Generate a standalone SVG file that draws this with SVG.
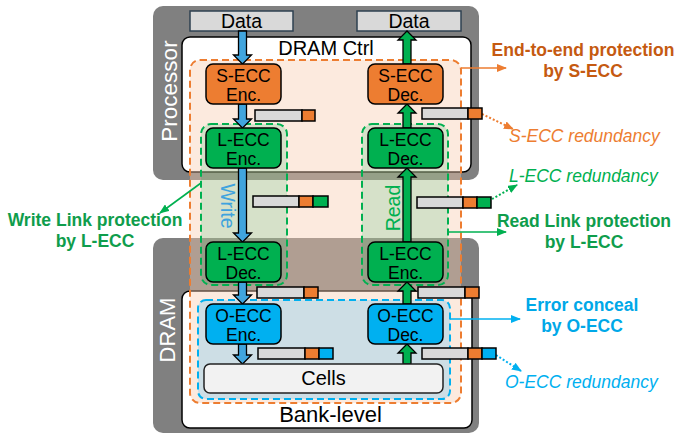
<svg xmlns="http://www.w3.org/2000/svg" width="676" height="436" viewBox="0 0 676 436">
<style>
text{font-family:"Liberation Sans",Arial,sans-serif}
.gray{fill:#808080}
.white{fill:#fff;stroke:#000;stroke-width:1.5}
.data{fill:#d9d9d9;stroke:#2e4050;stroke-width:1.5}
.dt{font-size:19.5px;fill:#000;text-anchor:middle}
.node{stroke:#000;stroke-width:1.5}
.o{fill:#ed7d31}.g{fill:#00b050}.b{fill:#00b0f0}
.nt{font-size:17.5px;fill:#000;text-anchor:middle}
.bar{stroke:#000;stroke-width:1.5}
.bg{fill:#d9d9d9}
.ba{stroke:#000;stroke-width:1.3}
.dn{fill:#41a5de}
.up{fill:#00b050}
.ann{font-size:17.5px;font-weight:bold;text-anchor:middle}
.red{font-size:17.5px;font-style:italic}
</style>
<defs>
<marker id="mo" markerWidth="10" markerHeight="8" refX="9" refY="4" orient="auto" markerUnits="userSpaceOnUse"><path d="M0,0 L10,4 L0,8 Z" fill="#ed7d31"/></marker>
<marker id="mg" markerWidth="10" markerHeight="8" refX="9" refY="4" orient="auto" markerUnits="userSpaceOnUse"><path d="M0,0 L10,4 L0,8 Z" fill="#00b050"/></marker>
<marker id="mb" markerWidth="10" markerHeight="8" refX="9" refY="4" orient="auto" markerUnits="userSpaceOnUse"><path d="M0,0 L10,4 L0,8 Z" fill="#00b0f0"/></marker>
</defs>

<g id="processor">
<rect class="gray" x="153" y="6" width="326" height="174" rx="10"/>
<rect class="white" x="182" y="37" width="289" height="135" rx="8"/>
<text x="177" y="91" transform="rotate(-90 177 91)" font-size="22.5" fill="#fff" text-anchor="middle">Processor</text>
<text x="326" y="55" font-size="20" text-anchor="middle">DRAM Ctrl</text>
</g>
<g id="dram">
<rect class="gray" x="153" y="238" width="326" height="195" rx="10"/>
<rect class="white" x="182" y="291" width="290" height="137" rx="8"/>
<text x="175" y="330" transform="rotate(-90 175 330)" font-size="22" fill="#fff" text-anchor="middle">DRAM</text>
<text x="330.5" y="422" font-size="22" text-anchor="middle">Bank-level</text>
</g>
<g id="data-in"><rect class="data" x="190" y="11" width="103" height="20"/><text class="dt" x="241.5" y="28">Data</text></g>
<g id="data-out"><rect class="data" x="357" y="11" width="104" height="20"/><text class="dt" x="409" y="28">Data</text></g>

<g id="s-ecc-region"><rect x="190" y="60" width="271" height="343" rx="10" fill="#f8cbad" fill-opacity="0.4" stroke="#ed7d31" stroke-width="2" stroke-dasharray="7 4"/></g>
<g id="write-link-region"><rect x="201" y="124" width="86" height="161" rx="10" fill="#00b050" fill-opacity="0.15" stroke="#00b050" stroke-width="2" stroke-dasharray="7 4"/>
<text x="221" y="206" transform="rotate(90 221 206)" font-size="19.5" fill="#3ea3de" text-anchor="middle">Write</text></g>
<g id="read-link-region"><rect x="362" y="124" width="86" height="161" rx="10" fill="#00b050" fill-opacity="0.15" stroke="#00b050" stroke-width="2" stroke-dasharray="7 4"/>
<text x="400" y="208" transform="rotate(-90 400 208)" font-size="19.5" fill="#00b050" text-anchor="middle">Read</text></g>
<g id="o-ecc-region"><rect x="198" y="300" width="252" height="99" rx="8" fill="#c4dce6" fill-opacity="0.85" stroke="#00b0f0" stroke-width="2" stroke-dasharray="7 4"/></g>

<g id="connectors">
<path class="ba dn" d="M238.5,31 L246.5,31 L246.5,55 L251.5,55 L242.5,64 L233.5,55 L238.5,55 Z"/>
<path class="ba dn" d="M238.5,104 L246.5,104 L246.5,119 L251.5,119 L242.5,128 L233.5,119 L238.5,119 Z"/>
<path class="ba dn" d="M238.5,168 L246.5,168 L246.5,233 L251.5,233 L242.5,242 L233.5,233 L238.5,233 Z"/>
<path class="ba dn" d="M238.5,282 L246.5,282 L246.5,295 L251.5,295 L242.5,304 L233.5,295 L238.5,295 Z"/>
<path class="ba dn" d="M238.5,344 L246.5,344 L246.5,355 L251.5,355 L242.5,364 L233.5,355 L238.5,355 Z"/>
<path class="ba up" d="M403,364 L411,364 L411,353 L416,353 L407,344 L398,353 L403,353 Z"/>
<path class="ba up" d="M403,304 L411,304 L411,291 L416,291 L407,282 L398,291 L403,291 Z"/>
<path class="ba up" d="M403,242 L411,242 L411,177 L416,177 L407,168 L398,177 L403,177 Z"/>
<path class="ba up" d="M403,128 L411,128 L411,113 L416,113 L407,104 L398,113 L403,113 Z"/>
<path class="ba up" d="M403,64 L411,64 L411,40 L416,40 L407,31 L398,40 L403,40 Z"/>
<line x1="461" y1="68" x2="506" y2="68" stroke="#ed7d31" stroke-width="1.6" marker-end="url(#mo)"/>
<line x1="448" y1="232" x2="506" y2="232" stroke="#00b050" stroke-width="1.6" marker-end="url(#mg)"/>
<line x1="201" y1="183" x2="160" y2="213" stroke="#00b050" stroke-width="1.6" marker-end="url(#mg)"/>
<line x1="450" y1="319" x2="520" y2="319" stroke="#00b0f0" stroke-width="1.6" marker-end="url(#mb)"/>
<line x1="482" y1="114" x2="513" y2="129" stroke="#ed7d31" stroke-width="2" stroke-dasharray="2 2" marker-end="url(#mo)"/>
<line x1="492" y1="199" x2="517" y2="185" stroke="#00b050" stroke-width="2" stroke-dasharray="2 2" marker-end="url(#mg)"/>
<line x1="496" y1="355" x2="521" y2="371" stroke="#00b0f0" stroke-width="2" stroke-dasharray="2 2" marker-end="url(#mb)"/>
</g>

<g id="s-ecc-enc"><rect class="node o" x="206" y="64" width="75" height="40" rx="7"/><text class="nt" x="243.5" y="81.5">S-ECC</text><text class="nt" x="243.5" y="101">Enc.</text></g>
<g id="s-ecc-dec"><rect class="node o" x="368" y="64" width="75" height="40" rx="7"/><text class="nt" x="405.5" y="81.5">S-ECC</text><text class="nt" x="405.5" y="101">Dec.</text></g>
<g id="l-ecc-enc-ctrl"><rect class="node g" x="206" y="128" width="75" height="40" rx="7"/><text class="nt" x="243.5" y="145.5">L-ECC</text><text class="nt" x="243.5" y="165">Enc.</text></g>
<g id="l-ecc-dec-ctrl"><rect class="node g" x="368" y="128" width="75" height="40" rx="7"/><text class="nt" x="405.5" y="145.5">L-ECC</text><text class="nt" x="405.5" y="165">Dec.</text></g>
<g id="l-ecc-dec-dram"><rect class="node g" x="206" y="242" width="75" height="40" rx="7"/><text class="nt" x="243.5" y="259.5">L-ECC</text><text class="nt" x="243.5" y="279">Dec.</text></g>
<g id="l-ecc-enc-dram"><rect class="node g" x="368" y="242" width="75" height="40" rx="7"/><text class="nt" x="405.5" y="259.5">L-ECC</text><text class="nt" x="405.5" y="279">Enc.</text></g>
<g id="o-ecc-enc"><rect class="node b" x="206" y="304" width="75" height="40" rx="7"/><text class="nt" x="243.5" y="321.5">O-ECC</text><text class="nt" x="243.5" y="341">Enc.</text></g>
<g id="o-ecc-dec"><rect class="node b" x="368" y="304" width="75" height="40" rx="7"/><text class="nt" x="405.5" y="321.5">O-ECC</text><text class="nt" x="405.5" y="341">Dec.</text></g>
<g id="cells"><rect x="204" y="364" width="239" height="29" rx="6" fill="#f2f2f2" stroke="#222" stroke-width="1.5"/><text x="323.5" y="385" font-size="20" text-anchor="middle">Cells</text></g>

<g id="bars">
<rect class="bar bg" x="255" y="110" width="47" height="11"/><rect class="bar o" x="302" y="110" width="13" height="11"/>
<rect class="bar bg" x="422" y="108" width="46" height="11"/><rect class="bar o" x="468" y="108" width="14" height="11"/>
<rect class="bar bg" x="253" y="196" width="46" height="11"/><rect class="bar o" x="299" y="196" width="14" height="11"/><rect class="bar g" x="313" y="196" width="15" height="11"/>
<rect class="bar bg" x="417" y="197" width="46" height="11"/><rect class="bar o" x="463" y="197" width="14" height="11"/><rect class="bar g" x="477" y="197" width="14" height="11"/>
<rect class="bar bg" x="257" y="287" width="47" height="11"/><rect class="bar o" x="304" y="287" width="14" height="11"/>
<rect class="bar bg" x="418" y="287" width="47" height="11"/><rect class="bar o" x="465" y="287" width="14" height="11"/>
<rect class="bar bg" x="258" y="348" width="47" height="11"/><rect class="bar o" x="305" y="348" width="14" height="11"/><rect class="bar b" x="319" y="348" width="14" height="11"/>
<rect class="bar bg" x="422" y="348" width="46" height="11"/><rect class="bar o" x="468" y="348" width="14" height="11"/><rect class="bar b" x="482" y="348" width="14" height="11"/>
</g>

<g id="labels">
<text class="ann" x="583" y="56" fill="#c55a11">End-to-end protection</text>
<text class="ann" x="583" y="77" fill="#c55a11">by S-ECC</text>
<text class="red" x="509" y="142" fill="#ed7d31">S-ECC redundancy</text>
<text class="red" x="509" y="182" fill="#00b050">L-ECC redundancy</text>
<text class="ann" x="584" y="227" fill="#0f9d4c">Read Link protection</text>
<text class="ann" x="584" y="248" fill="#0f9d4c">by L-ECC</text>
<text class="ann" x="95" y="226" fill="#0f9d4c">Write Link protection</text>
<text class="ann" x="95" y="247" fill="#0f9d4c">by L-ECC</text>
<text class="ann" x="582" y="311" fill="#00a8e8">Error conceal</text>
<text class="ann" x="582" y="332" fill="#00a8e8">by O-ECC</text>
<text class="red" x="505" y="388" fill="#00b0f0">O-ECC redundancy</text>
</g>
</svg>
